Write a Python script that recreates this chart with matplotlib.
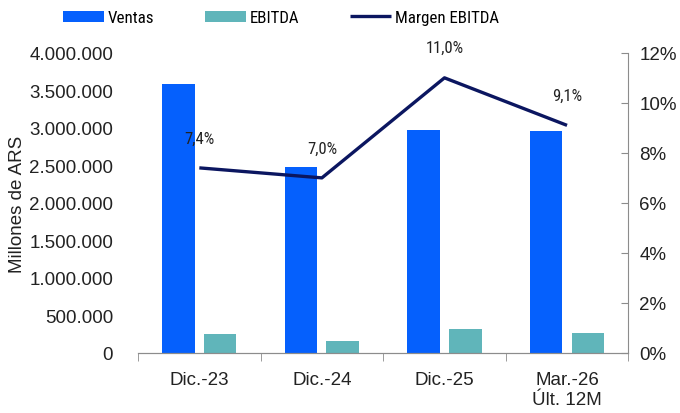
import matplotlib.pyplot as plt
import numpy as np

plt.rcParams['font.family'] = ['Liberation Sans', 'DejaVu Sans']
narrow = ['Roboto Condensed', 'Liberation Sans', 'DejaVu Sans']

categorias = ['Dic.-23', 'Dic.-24', 'Dic.-25', 'Mar.-26\nÚlt. 12M']
ventas = [3590000, 2480000, 2975000, 2960000]
ebitda = [257000, 164000, 320000, 262000]
margen = [7.4, 7.0, 11.0, 9.1]
margen_txt = ['7,4%', '7,0%', '11,0%', '9,1%']

c_ventas = '#0560FD'
c_ebitda = '#60B5BA'
c_margen = '#0B1660'
c_eje = '#8C8C8C'

fig = plt.figure(figsize=(6.8, 4.14), dpi=100)
ax = fig.add_axes([0.203, 0.145, 0.721, 0.725])
ax2 = ax.twinx()

x = np.arange(len(categorias))
w = 0.265
ax.bar(x - 0.17, ventas, w, color=c_ventas, label='Ventas', zorder=2)
ax.bar(x + 0.17, ebitda, w, color=c_ebitda, label='EBITDA', zorder=2)
ax2.plot(x, margen, color=c_margen, lw=2.4, label='Margen EBITDA',
         solid_capstyle='butt')
for xi, m, t in zip(x, margen, margen_txt):
    ax2.text(xi, m + 1.2, t, ha='center', va='center', fontsize=12,
             color='#222222', family=narrow)

ax.set_xlim(-0.5, len(categorias) - 0.5)
ax.set_ylim(0, 4000000)
ax.set_yticks(np.arange(0, 4000001, 500000))
ax.set_yticklabels([f'{int(v):,}'.replace(',', '.') for v in ax.get_yticks()])
ax2.set_ylim(0, 12)
ax2.set_yticks(np.arange(0, 13, 2))
ax2.set_yticklabels([f'{int(v)}%' for v in ax2.get_yticks()])

ax.set_xticks(x)
ax.set_xticklabels(categorias)
ax.set_xticks(np.arange(-0.5, len(categorias)), minor=True)
ax.tick_params(axis='x', which='major', length=0, pad=13, labelsize=13.5, labelcolor='#222222')
ax.tick_params(axis='x', which='minor', length=6, color=c_eje, direction='out')
ax.tick_params(axis='y', length=0, pad=18, labelsize=13.5, labelcolor='#222222')
ax2.tick_params(axis='y', length=5, color=c_eje, direction='in', pad=8,
                labelsize=13.5, labelcolor='#222222')

for a in (ax, ax2):
    for s in ['top', 'left']:
        a.spines[s].set_visible(False)
    a.spines['bottom'].set_color(c_eje)
ax.spines['right'].set_visible(False)
ax2.spines['right'].set_color(c_eje)

ax.set_ylabel('Millones de ARS', fontsize=13.5, color='#222222', labelpad=2)

h1, l1 = ax.get_legend_handles_labels()
h2, l2 = ax2.get_legend_handles_labels()
fig.legend(h1 + h2, l1 + l2, loc='center left', bbox_to_anchor=(0.07, 0.955), ncol=3,
           frameon=False, prop={'family': narrow, 'size': 12.2},
           handlelength=2.4, handleheight=0.62, columnspacing=3.0,
           handletextpad=0.25)

plt.savefig('out.png', dpi=100)
